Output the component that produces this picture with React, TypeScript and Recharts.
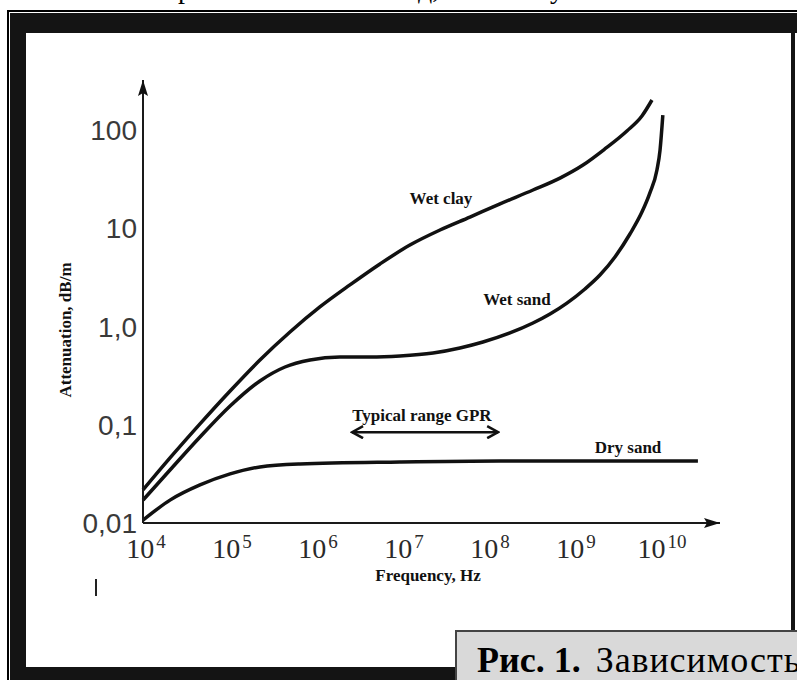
import React from 'react';
import { LineChart, Line, XAxis, YAxis, ReferenceLine, ReferenceDot } from 'recharts';

// ---- data (frequency in Hz, attenuation in dB/m) ----
const xTicks = [1e4, 1e5, 1e6, 1e7, 1e8, 1e9, 1e10];
const yTicks = [0.01, 0.1, 1, 10, 100];
const yTickLabels = ['0,01', '0,1', '1,0', '10', '100'];

const wetClayFreq = [1e4, 2.06e4, 4.6e4, 1.03e5, 2.29e5, 5.12e5, 1.14e6, 2.55e6, 5.7e6, 1.27e7, 2.84e7, 6.34e7, 1.42e8, 3.43e8, 7.06e8, 1.31e9, 2.35e9, 4.24e9, 6.34e9, 8.3e9];
const wetClayAtten = [0.0217, 0.0459, 0.102, 0.2206, 0.456, 0.879, 1.58, 2.65, 4.33, 6.75, 9.59, 13.0, 17.7, 24.5, 32.4, 44.0, 64.1, 97.7, 138.9, 202];

const wetSandFreq = [1e4, 2.06e4, 4.6e4, 1.03e5, 2.29e5, 4.48e5, 8.75e5, 1.95e6, 4.37e6, 9.73e6, 2.36e7, 4.85e7, 8.98e7, 1.85e8, 3.43e8, 5.41e8, 8.51e8, 1.38e9, 2.06e9, 3.08e9, 4.6e9, 6.34e9, 7.85e9, 9.48e9, 1.03e10, 1.11e10];
const wetSandAtten = [0.0171, 0.0346, 0.075, 0.155, 0.279, 0.387, 0.456, 0.489, 0.489, 0.501, 0.537, 0.604, 0.695, 0.859, 1.085, 1.34, 1.73, 2.41, 3.34, 5.1, 8.74, 14.6, 22.9, 39.2, 62.5, 142];

const drySandFreq = [1e4, 2.06e4, 4.6e4, 1.03e5, 2.29e5, 6.7e5, 9.7e6, 1.42e8, 2.06e9, 2.84e10];
const drySandAtten = [0.0107, 0.0171, 0.0244, 0.0316, 0.0372, 0.0399, 0.0418, 0.0428, 0.0428, 0.0428];

const gprRange = [2.7e6, 1.35e8];
const gprLevel = 0.084;

const labelTexts = ['Wet clay', 'Wet sand', 'Dry sand', 'Typical range GPR'];
const labelFreq = [2.92e7, 2.23e8, 4.37e9, 1.75e7];
const labelAtten = [20.3, 1.905, 0.058, 0.1256];

const X_MAX = 5.13e10;
const Y_MAX = 322.8;

const toData = (f: number[], a: number[]) => f.map((v, i) => ({ f: v, a: a[i] }));
const wetClay = toData(wetClayFreq, wetClayAtten);
const wetSand = toData(wetSandFreq, wetSandAtten);
const drySand = toData(drySandFreq, drySandAtten);

const SERIF = '"Liberation Serif", "Times New Roman", serif';
const SANS = '"Liberation Sans", Arial, sans-serif';

const XTick = (props: any) => {
  const { x, y, payload } = props;
  const exp = Math.round(Math.log10(payload.value));
  return (
    <text x={x + 3} y={y + 27} textAnchor="middle" fontFamily={SERIF} fill="#2a2a2a">
      <tspan fontSize={28}>10</tspan>
      <tspan fontSize={19} dy={-10} dx={2}>{exp}</tspan>
    </text>
  );
};

const YTick = (props: any) => {
  const { x, y, payload } = props;
  const idx = yTicks.indexOf(payload.value);
  return (
    <text x={x + 2} y={y} dy={10} textAnchor="end" fontFamily={SANS} fontSize={28} fill="#3a3a3a">
      {idx >= 0 ? yTickLabels[idx] : ''}
    </text>
  );
};

const makeLabel = (text: string) => (p: any) => (
  <text x={p.cx} y={p.cy} textAnchor="middle" dominantBaseline="central" fontFamily={SERIF}
    fontWeight="bold" fontSize={17} fill="#111">{text}</text>
);

export default function App() {
  const lineProps = { type: 'monotone' as const, dataKey: 'a', stroke: '#111', strokeWidth: 3.5, dot: false, isAnimationActive: false, activeDot: false };
  return (
    <div style={{ position: 'absolute', left: 0, top: 0, width: 797, height: 680, overflow: 'hidden', background: '#fff' }}>
      <svg width={0} height={0} style={{ position: 'absolute' }}>
        <defs>
          <marker id="arrowHead" viewBox="0 0 16 10" markerWidth={16} markerHeight={10} refX={16} refY={5}
            orient="auto-start-reverse" markerUnits="userSpaceOnUse">
            <path d="M0,0 L16,5 L0,10 L3,5 Z" fill="#111" />
          </marker>
          <marker id="chevron" viewBox="0 0 14 14" markerWidth={14} markerHeight={14} refX={12} refY={7}
            orient="auto-start-reverse" markerUnits="userSpaceOnUse">
            <path d="M1,1 L12,7 L1,13" fill="none" stroke="#111" strokeWidth={2.5} />
          </marker>
        </defs>
      </svg>

      {/* clipped fragments of the text line above the figure */}
      <div style={{ position: 'absolute', left: 0, top: 0, width: 797, height: 10, overflow: 'hidden', color: '#000' }}>
        <span style={{ position: 'absolute', left: 178, top: -27, fontFamily: SERIF, fontSize: 28 }}>р</span>
        <span style={{ position: 'absolute', left: 418, top: -27, fontFamily: SERIF, fontSize: 28 }}>д,</span>
        <span style={{ position: 'absolute', left: 550, top: -27, fontFamily: SERIF, fontSize: 28 }}>у</span>
      </div>

      {/* frame */}
      <div style={{ position: 'absolute', left: 7, top: 10, width: 790, height: 2, background: '#000' }} />
      <div style={{ position: 'absolute', left: 7, top: 10, width: 2, height: 670, background: '#000' }} />
      <div style={{ position: 'absolute', left: 10, top: 13, width: 787, height: 667, background: '#141414' }} />
      <div style={{ position: 'absolute', left: 26, top: 33, width: 765, height: 634, background: '#fff' }} />
      <div style={{ position: 'absolute', left: 795, top: 33, width: 2, height: 597, background: '#fff' }} />
      <div style={{ position: 'absolute', left: 95, top: 579, width: 2, height: 17, background: '#222' }} />

      <div style={{ position: 'absolute', left: 0, top: 0 }}>
        <LineChart width={797} height={680} margin={{ top: 80, right: 77, bottom: 97, left: 83 }}>
          <XAxis type="number" dataKey="f" scale="log" domain={[1e4, X_MAX]} ticks={xTicks} interval={0}
            tick={<XTick />} tickLine={false} height={60}
            axisLine={{ stroke: '#1a1a1a', strokeWidth: 2, markerEnd: 'url(#arrowHead)' }} />
          <YAxis type="number" dataKey="a" scale="log" domain={[0.01, Y_MAX]} ticks={yTicks} interval={0}
            tick={<YTick />} tickLine={false} width={60}
            axisLine={{ stroke: '#1a1a1a', strokeWidth: 2, markerStart: 'url(#arrowHead)' }} />
          <Line data={wetClay} {...lineProps} />
          <Line data={wetSand} {...lineProps} />
          <Line data={drySand} {...lineProps} />
          <ReferenceLine segment={[{ x: gprRange[0], y: gprLevel }, { x: gprRange[1], y: gprLevel }]}
            stroke="#111" strokeWidth={2.5} markerStart="url(#chevron)" markerEnd="url(#chevron)" />
          {labelTexts.map((t, i) => (
            <ReferenceDot key={t} x={labelFreq[i]} y={labelAtten[i]} r={0} shape={makeLabel(t)} />
          ))}
          <text x={65} y={330} transform="rotate(-90 65 330)" textAnchor="middle" dominantBaseline="central"
            fontFamily={SERIF} fontWeight="bold" fontSize={17} fill="#111">Attenuation, dB/m</text>
          <text x={428} y={575} textAnchor="middle" dominantBaseline="central"
            fontFamily={SERIF} fontWeight="bold" fontSize={17} fill="#111">Frequency, Hz</text>
        </LineChart>
      </div>

      {/* caption box */}
      <div style={{
        position: 'absolute', left: 455, top: 630, width: 342, height: 50, background: '#d9d9d9',
        borderTop: '2px solid #444', borderLeft: '2px solid #444', boxSizing: 'border-box',
        overflow: 'hidden', whiteSpace: 'nowrap', fontFamily: SERIF, fontSize: 36, color: '#000',
        lineHeight: '56px', paddingLeft: 20,
      }}>
        <b>Рис. 1.</b><span style={{ marginLeft: 15, letterSpacing: 0.9 }}>Зависимость</span>
      </div>
    </div>
  );
}
